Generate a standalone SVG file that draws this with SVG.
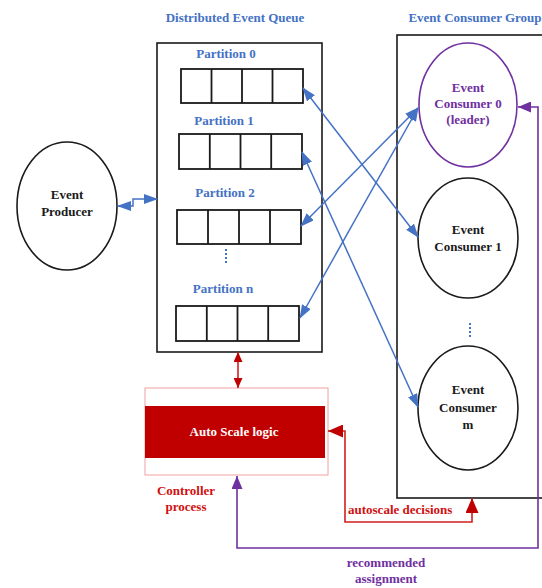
<svg xmlns="http://www.w3.org/2000/svg" width="542" height="588" viewBox="0 0 542 588">
  <style>
    .lbl { font-family: "Liberation Serif", "Times New Roman", serif; font-weight: bold; font-size: 13px; text-anchor: middle; }
    .blue { fill: #4472C4; }
    .black { fill: #1a1a1a; }
    .purple { fill: #7030A0; }
    .red { fill: #D01010; }
    .box { fill: none; stroke: #1a1a1a; stroke-width: 1.6; }
    .cell { fill: #ffffff; stroke: #1a1a1a; stroke-width: 1.8; }
    .node { fill: #ffffff; stroke: #1a1a1a; stroke-width: 1.6; }
    .link-blue { fill: none; stroke: #4472C4; stroke-width: 1.5; marker-start: url(#ahBlue); marker-end: url(#ahBlue); }
    .link-red { fill: none; stroke: #D02020; stroke-width: 1.6; marker-start: url(#ahRed); marker-end: url(#ahRed); }
    .link-red-small { fill: none; stroke: #D02020; stroke-width: 1.6; marker-start: url(#ahRedSmall); marker-end: url(#ahRedSmall); }
    .link-purple { fill: none; stroke: #7030A0; stroke-width: 1.6; marker-start: url(#ahPurple); marker-end: url(#ahPurple); }
    .dots { stroke: #4472C4; stroke-width: 2; stroke-dasharray: 2 2; }
  </style>
  <defs>
    <marker id="ahBlue" markerUnits="userSpaceOnUse" markerWidth="14" markerHeight="10" refX="13" refY="5" orient="auto-start-reverse" viewBox="0 0 14 10">
      <path d="M0,0 L14,5 L0,10 Z" fill="#4472C4"/>
    </marker>
    <marker id="ahRed" markerUnits="userSpaceOnUse" markerWidth="15" markerHeight="13" refX="15" refY="6.5" orient="auto-start-reverse" viewBox="0 0 15 13">
      <path d="M0,0 L15,6.5 L0,13 Z" fill="#C00000"/>
    </marker>
    <marker id="ahRedSmall" markerUnits="userSpaceOnUse" markerWidth="10" markerHeight="9" refX="10" refY="4.5" orient="auto-start-reverse" viewBox="0 0 10 9">
      <path d="M0,0 L10,4.5 L0,9 Z" fill="#C00000"/>
    </marker>
    <marker id="ahPurple" markerUnits="userSpaceOnUse" markerWidth="13" markerHeight="11" refX="13" refY="5.5" orient="auto-start-reverse" viewBox="0 0 13 11">
      <path d="M0,0 L13,5.5 L0,11 Z" fill="#7030A0"/>
    </marker>
  </defs>

  <rect width="542" height="588" fill="#ffffff"/>

  <!-- Distributed event queue -->
  <g id="queue">
    <text class="lbl blue" x="235" y="22">Distributed Event Queue</text>
    <rect class="box" x="157" y="43" width="165" height="309"/>
  </g>
  <g id="partition-0">
    <text class="lbl blue" x="226" y="58">Partition 0</text>
    <rect class="cell" x="181" y="69" width="122" height="34"/>
    <path class="cell" d="M211.5,69 V103 M242,69 V103 M272.5,69 V103"/>
  </g>
  <g id="partition-1">
    <text class="lbl blue" x="224" y="125">Partition 1</text>
    <rect class="cell" x="179" y="134" width="123" height="35"/>
    <path class="cell" d="M209.8,134 V169 M240.5,134 V169 M271.2,134 V169"/>
  </g>
  <g id="partition-2">
    <text class="lbl blue" x="225" y="197">Partition 2</text>
    <rect class="cell" x="177" y="210" width="124" height="34"/>
    <path class="cell" d="M208,210 V244 M239,210 V244 M270,210 V244"/>
  </g>
  <line class="dots" x1="226" y1="249" x2="226" y2="265"/>
  <g id="partition-n">
    <text class="lbl blue" x="223" y="293">Partition n</text>
    <rect class="cell" x="176" y="306" width="123" height="35"/>
    <path class="cell" d="M206.8,306 V341 M237.5,306 V341 M268.2,306 V341"/>
  </g>

  <!-- Event producer -->
  <g id="producer">
    <ellipse class="node" cx="67" cy="206" rx="50" ry="64"/>
    <text class="lbl black" x="67" y="199">Event</text>
    <text class="lbl black" x="67" y="216">Producer</text>
  </g>

  <!-- Event consumer group -->
  <g id="consumer-group">
    <text class="lbl blue" x="475" y="22">Event Consumer Group</text>
    <rect class="box" x="397" y="35" width="150" height="463"/>
  </g>
  <g id="consumer-0">
    <ellipse cx="468" cy="105" rx="49" ry="62" fill="#ffffff" stroke="#7030A0" stroke-width="1.6"/>
    <text class="lbl purple" x="468" y="92">Event</text>
    <text class="lbl purple" x="468" y="108">Consumer 0</text>
    <text class="lbl purple" x="468" y="124">(leader)</text>
  </g>
  <g id="consumer-1">
    <ellipse class="node" cx="468" cy="238" rx="50" ry="60"/>
    <text class="lbl black" x="468" y="234">Event</text>
    <text class="lbl black" x="468" y="251">Consumer 1</text>
  </g>
  <line class="dots" x1="470" y1="323" x2="470" y2="339"/>
  <g id="consumer-m">
    <ellipse class="node" cx="468" cy="408" rx="50" ry="62"/>
    <text class="lbl black" x="468" y="394">Event</text>
    <text class="lbl black" x="468" y="412">Consumer</text>
    <text class="lbl black" x="468" y="429">m</text>
  </g>

  <!-- Controller process -->
  <g id="controller">
    <rect x="145" y="388" width="183" height="87" fill="#ffffff" stroke="#F0A0A0" stroke-width="1"/>
    <rect x="145" y="406" width="180" height="52" fill="#C00000"/>
    <text class="lbl" x="234" y="436" fill="#ffffff">Auto Scale logic</text>
    <text class="lbl red" x="186" y="495">Controller</text>
    <text class="lbl red" x="186" y="511">process</text>
  </g>

  <!-- Connectors -->
  <g id="connectors">
    <path class="link-blue" d="M118,206 H133 V199 H157"/>
    <path class="link-blue" d="M303,88 L418,237"/>
    <path class="link-blue" d="M302,152 L418,407"/>
    <path class="link-blue" d="M418,108 L301,226"/>
    <path class="link-blue" d="M418,108 L300,318"/>
    <path class="link-red-small" d="M238,352 V388"/>
    <path class="link-red" d="M328,431 H345 V522 H472 V498"/>
    <path class="link-purple" d="M237,476 V548 H538 V107 H518"/>
    <text class="lbl red" x="348" y="514" style="text-anchor:start">autoscale decisions</text>
    <text class="lbl purple" x="386" y="567">recommended</text>
    <text class="lbl purple" x="386" y="583">assignment</text>
  </g>
</svg>
